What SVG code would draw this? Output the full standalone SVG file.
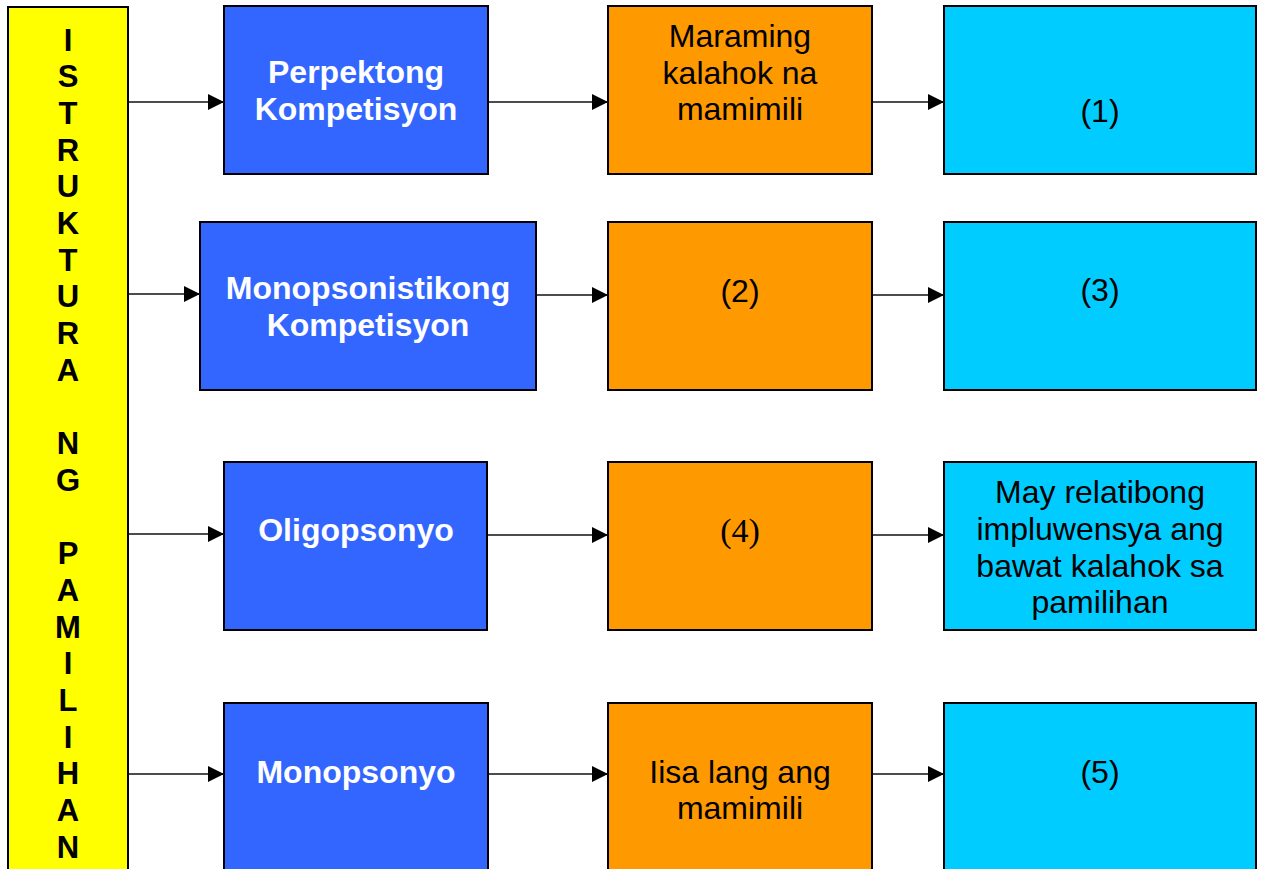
<svg xmlns="http://www.w3.org/2000/svg" width="1262" height="869" viewBox="0 0 1262 869">
<style>
.box{stroke:#000;stroke-width:2}
.y{fill:#FFFF00}.b{fill:#3366FF}.o{fill:#FF9900}.c{fill:#00CCFF}
.lt{font-family:"Liberation Sans",Arial,sans-serif;font-weight:bold;font-size:31px;fill:#000;text-anchor:middle}
.bt{font-family:"Liberation Sans",Arial,sans-serif;font-weight:bold;font-size:32px;fill:#fff;text-anchor:middle}
.t{font-family:"Liberation Sans",Arial,sans-serif;font-size:32px;fill:#000;text-anchor:middle}
.s{font-family:"Liberation Serif","Times New Roman",serif;font-size:34px;fill:#000;text-anchor:middle}
.con{stroke:#111;stroke-width:1.6;fill:none;marker-end:url(#ah)}
</style>
<defs>
<marker id="ah" markerUnits="userSpaceOnUse" markerWidth="16" markerHeight="16" refX="16" refY="8" orient="auto">
<path d="M0,0 L16,8 L0,16 z" fill="#000"/>
</marker>
</defs>
<rect width="1262" height="869" fill="#fff"/>
<g id="istruktura">
<rect class="box y" x="8" y="7" width="120" height="880"/>
<g class="lt">
<text x="68" y="51">I</text>
<text x="68" y="87">S</text>
<text x="68" y="124">T</text>
<text x="68" y="161">R</text>
<text x="68" y="197">U</text>
<text x="68" y="234">K</text>
<text x="68" y="271">T</text>
<text x="68" y="307">U</text>
<text x="68" y="344">R</text>
<text x="68" y="381">A</text>
<text x="68" y="454">N</text>
<text x="68" y="491">G</text>
<text x="68" y="564">P</text>
<text x="68" y="601">A</text>
<text x="68" y="638">M</text>
<text x="68" y="674">I</text>
<text x="68" y="711">L</text>
<text x="68" y="748">I</text>
<text x="68" y="784">H</text>
<text x="68" y="821">A</text>
<text x="68" y="858">N</text>
</g>
</g>
<g id="perpekto">
<rect class="box b" x="224" y="6" width="264" height="168"/>
<text class="bt" x="356" y="83">Perpektong</text>
<text class="bt" x="356" y="120">Kompetisyon</text>
</g>
<g id="perpekto-o">
<rect class="box o" x="608" y="6" width="264" height="168"/>
<text class="t" x="740" y="47">Maraming</text>
<text class="t" x="740" y="84">kalahok na</text>
<text class="t" x="740" y="120">mamimili</text>
</g>
<g id="perpekto-c">
<rect class="box c" x="944" y="6" width="312" height="168"/>
<text class="t" x="1100" y="122">(1)</text>
</g>
<g id="monopsonistiko">
<rect class="box b" x="200" y="222" width="336" height="168"/>
<text class="bt" x="368" y="299">Monopsonistikong</text>
<text class="bt" x="368" y="336">Kompetisyon</text>
</g>
<g id="monopsonistiko-o">
<rect class="box o" x="608" y="222" width="264" height="168"/>
<text class="t" x="740" y="302">(2)</text>
</g>
<g id="monopsonistiko-c">
<rect class="box c" x="944" y="222" width="312" height="168"/>
<text class="t" x="1100" y="301">(3)</text>
</g>
<g id="oligopsonyo">
<rect class="box b" x="224" y="462" width="263" height="168"/>
<text class="bt" x="356" y="541">Oligopsonyo</text>
</g>
<g id="oligopsonyo-o">
<rect class="box o" x="608" y="462" width="264" height="168"/>
<text class="s" x="740" y="542">(4)</text>
</g>
<g id="oligopsonyo-c">
<rect class="box c" x="944" y="462" width="312" height="168"/>
<text class="t" x="1100" y="503">May relatibong</text>
<text class="t" x="1100" y="540">impluwensya ang</text>
<text class="t" x="1100" y="577">bawat kalahok sa</text>
<text class="t" x="1100" y="613">pamilihan</text>
</g>
<g id="monopsonyo">
<rect class="box b" x="224" y="703" width="264" height="180"/>
<text class="bt" x="356" y="783">Monopsonyo</text>
</g>
<g id="monopsonyo-o">
<rect class="box o" x="608" y="703" width="264" height="180"/>
<text class="t" x="740" y="783">Iisa lang ang</text>
<text class="t" x="740" y="819">mamimili</text>
</g>
<g id="monopsonyo-c">
<rect class="box c" x="944" y="703" width="312" height="180"/>
<text class="t" x="1100" y="783">(5)</text>
</g>
<g id="connectors">
<line class="con" x1="129" y1="102" x2="224" y2="102"/>
<line class="con" x1="489" y1="102" x2="608" y2="102"/>
<line class="con" x1="873" y1="102" x2="944" y2="102"/>
<line class="con" x1="129" y1="294" x2="200" y2="294"/>
<line class="con" x1="537" y1="295" x2="608" y2="295"/>
<line class="con" x1="873" y1="295" x2="944" y2="295"/>
<line class="con" x1="129" y1="534" x2="224" y2="534"/>
<line class="con" x1="488" y1="535" x2="608" y2="535"/>
<line class="con" x1="873" y1="535" x2="944" y2="535"/>
<line class="con" x1="129" y1="774" x2="224" y2="774"/>
<line class="con" x1="489" y1="774" x2="608" y2="774"/>
<line class="con" x1="873" y1="774" x2="944" y2="774"/>
</g>
</svg>
